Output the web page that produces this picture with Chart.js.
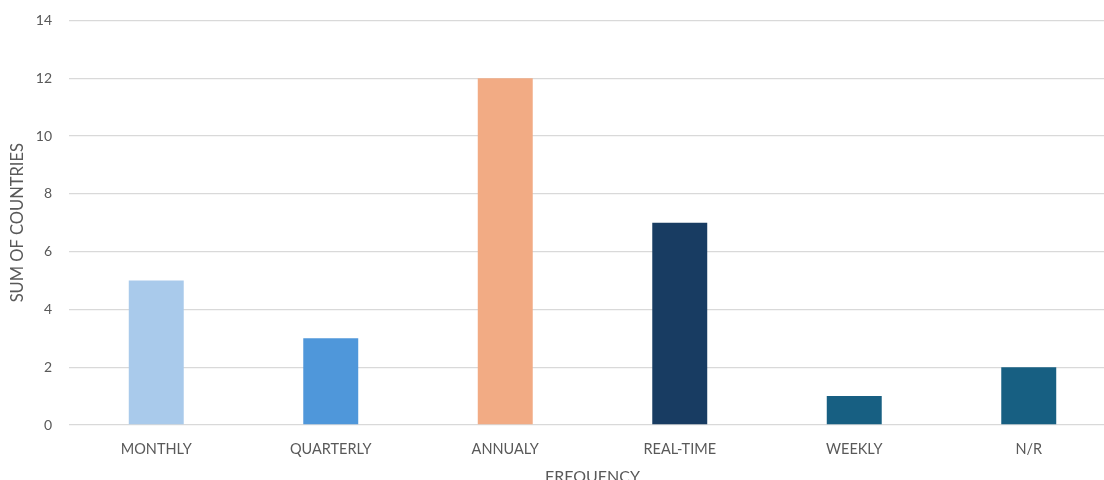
<!DOCTYPE html>
<html>
<head>
<meta charset="utf-8">
<script src="https://cdn.jsdelivr.net/npm/chart.js@4"></script>
<style>
  html, body { margin: 0; padding: 0; background: #ffffff; overflow: hidden; }
  #wrap { position: absolute; left: 0; top: -5px; width: 1130px; height: 497px; }
</style>
</head>
<body>
<div id="wrap"><canvas id="c" width="1130" height="497"></canvas></div>
<script>
// Reporting frequency, number of countries per category
const categories = ['MONTHLY', 'QUARTERLY', 'ANNUALY', 'REAL-TIME', 'WEEKLY', 'N/R'];
const countries = [5, 3, 12, 7, 1, 2];
const barColors = ['#A9CAEB', '#4F97DA', '#F2AB84', '#183C62', '#175F82', '#175F82'];
const yTicks = [0, 2, 4, 6, 8, 10, 12, 14];

const textColor = '#595959';
const gridColor = '#D9D9D9';
const fontFamily = 'Lato, "Open Sans", sans-serif';

new Chart(document.getElementById('c'), {
  type: 'bar',
  data: {
    labels: categories,
    datasets: [{
      label: 'Sum of Countries',
      data: countries,
      backgroundColor: barColors,
      borderWidth: 0,
      categoryPercentage: 1.0,
      barPercentage: 0.315
    }]
  },
  options: {
    responsive: false,
    animation: false,
    devicePixelRatio: 1,
    layout: { padding: { top: 15, right: 14, bottom: 0, left: 0 } },
    plugins: {
      legend: { display: false },
      tooltip: { enabled: false }
    },
    scales: {
      x: {
        grid: { display: false, drawTicks: false },
        border: { display: false },
        ticks: {
          color: textColor,
          font: { family: fontFamily, size: 14.5 },
          padding: 16,
          maxRotation: 0
        },
        title: {
          display: true,
          text: 'FREQUENCY',
          color: textColor,
          font: { family: fontFamily, size: 16 },
          padding: { top: 0, bottom: 6 }
        },
        afterFit: (axis) => { axis.height = 67; }
      },
      y: {
        min: 0,
        max: 14,
        afterBuildTicks: (axis) => { axis.ticks = yTicks.map(v => ({ value: v })); },
        grid: { color: gridColor, lineWidth: 1.3, drawTicks: false },
        border: { display: false },
        ticks: {
          color: textColor,
          font: { family: fontFamily, size: 14 },
          padding: 17
        },
        title: {
          display: true,
          text: 'SUM OF COUNTRIES',
          color: textColor,
          font: { family: fontFamily, size: 16.5 },
          padding: { top: 8, bottom: 0 }
        },
        afterFit: (axis) => { axis.width = 69; }
      }
    }
  }
});
</script>
</body>
</html>
